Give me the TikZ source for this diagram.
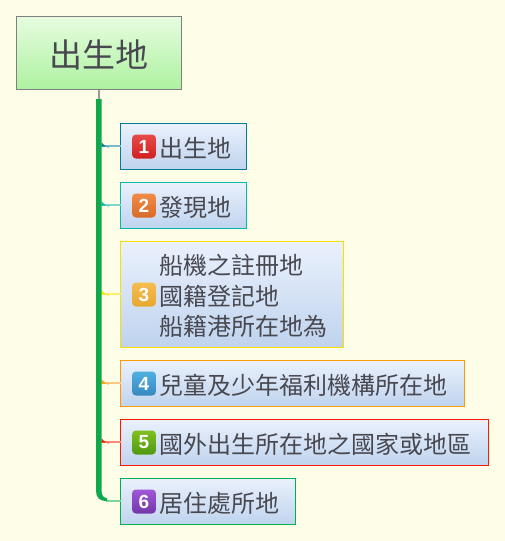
\documentclass[tikz,border=0pt]{standalone}
\usepackage{fontspec}
\setmainfont{Noto Sans CJK TC}[BoldFont={Liberation Sans Bold}]
\newfontfamily\badgefont{Liberation Sans Bold}
\usetikzlibrary{calc}
\definecolor{paper}{HTML}{FEFDE8}
\definecolor{ink}{HTML}{484850}
\definecolor{trunkc}{HTML}{0FA84A}
\definecolor{boxtop}{HTML}{EAF1FC}
\definecolor{boxbot}{HTML}{BFD3EE}
\definecolor{cA}{HTML}{007A99}\definecolor{lA}{HTML}{7CBCC8}
\definecolor{cB}{HTML}{00BBAA}\definecolor{lB}{HTML}{7CD8CC}
\definecolor{cC}{HTML}{FFDD00}\definecolor{lC}{HTML}{FFEC70}
\definecolor{cD}{HTML}{FF9900}\definecolor{lD}{HTML}{FFC880}
\definecolor{cE}{HTML}{FF1500}\definecolor{lE}{HTML}{FF8A78}
\definecolor{cF}{HTML}{00B050}\definecolor{lF}{HTML}{78D898}
\definecolor{rootT}{HTML}{E6FCDF}
\definecolor{rootB}{HTML}{ADF2A0}
\tikzset{
  x=1pt,y=-1pt,
  rootbox/.style={draw=black!50,line width=1pt,top color=rootT,bottom color=rootB,anchor=north west,inner sep=0pt,outer sep=0pt,minimum width=165pt,minimum height=73pt},
  itembox/.style={line width=1pt,top color=boxtop,bottom color=boxbot,anchor=north west,inner sep=0pt,outer sep=0pt,minimum height=46pt},
  badge/.style={rounded corners=4pt,minimum size=24pt,inner sep=0pt,anchor=center,text=white,font=\badgefont\fontsize{19}{19}\selectfont},
  itemtext/.style={anchor=west,inner sep=0pt,text=ink,font=\fontsize{24}{30.5}\selectfont,align=left},
  branch/.style={line width=2.2pt},
}
\newcommand{\branchwedge}[2]{\fill[#2] ($(#1.west -| trunk)+(2.5,0)$) -- ++(0,-4.5) .. controls +(1,3) and +(3,3.5) .. ++(7,4.5) -- cycle;}
\begin{document}
\begin{tikzpicture}
\useasboundingbox (0,0) rectangle (505,541);
\fill[paper] (0,0) rectangle (505,541);
\coordinate (trunk) at (99,99);
\node[rootbox] (root) at (16.5,16.5) {};
\node[text=ink,inner sep=0pt,font=\fontsize{33}{33}\selectfont] (roottext) at ($(root.center)+(0,1.5)$) {出生地};
\node[itembox,draw=cA,minimum width=126pt] (b1) at (120.5,123.5) {};
\node[itembox,draw=cB,minimum width=126pt] (b2) at (120.5,182.5) {};
\node[itembox,draw=cC,minimum width=223pt,minimum height=106pt] (b3) at (120.5,241.5) {};
\node[itembox,draw=cD,minimum width=344pt] (b4) at (120.5,360.5) {};
\node[itembox,draw=cE,minimum width=368pt] (b5) at (120.5,419.5) {};
\node[itembox,draw=cF,minimum width=175pt] (b6) at (120.5,478.5) {};
\foreach \n/\bt/\bb/\lab in {
 1/E84B48/D02020/出生地,
 2/F08C48/D86A28/發現地,
 3/F5BC50/E8A830/{船機之註冊地\\國籍登記地\\船籍港所在地為},
 4/50B0E0/3888C0/兒童及少年福利機構所在地,
 5/80C020/509810/國外出生所在地之國家或地區,
 6/A058D8/7038A8/居住處所地}{
  \definecolor{bt}{HTML}{\bt}\definecolor{bb}{HTML}{\bb}
  \node[badge,top color=bt,bottom color=bb] (badge\n) at ($(b\n.west)+(23.5,0)$) {\n};
  \node[itemtext] (label\n) at ($(b\n.west)+(39,1.5)$) {\lab};
}
\draw[black!40,line width=1.2pt] (root.south) -- (trunk);
\draw[branch,lA] ($(b1.west)+(0,-0.7)$) -- ($(b1.west -| trunk)+(0,-0.7)$);
\draw[branch,lB] ($(b2.west)+(0,-0.7)$) -- ($(b2.west -| trunk)+(0,-0.7)$);
\draw[branch,lC] ($(b3.west)+(0,-0.7)$) -- ($(b3.west -| trunk)+(0,-0.7)$);
\draw[branch,lD] ($(b4.west)+(0,-0.7)$) -- ($(b4.west -| trunk)+(0,-0.7)$);
\draw[branch,lE] ($(b5.west)+(0,-0.7)$) -- ($(b5.west -| trunk)+(0,-0.7)$);
\branchwedge{b1}{cA}
\branchwedge{b2}{cB}
\branchwedge{b3}{cC}
\branchwedge{b4}{cD}
\branchwedge{b5}{cE}
\draw[branch,lF] ($(b6.west)+(0,-0.7)$) -- ++(-15,0);
\fill[trunkc] ($(trunk)+(-3,0)$) -- ($(b6.west -| trunk)+(-3,-11)$)
  .. controls ($(b6.west -| trunk)+(-3,-4)$) and ($(b6.west -| trunk)+(0,-0.5)$) .. ($(b6.west -| trunk)+(8,-0.5)$)
  -- ($(b6.west -| trunk)+(8,-3.5)$)
  .. controls ($(b6.west -| trunk)+(4.5,-3.5)$) and ($(b6.west -| trunk)+(2.5,-6)$) .. ($(b6.west -| trunk)+(2.5,-11)$)
  -- ($(trunk)+(2.5,0)$) -- cycle;
\end{tikzpicture}
\end{document}
